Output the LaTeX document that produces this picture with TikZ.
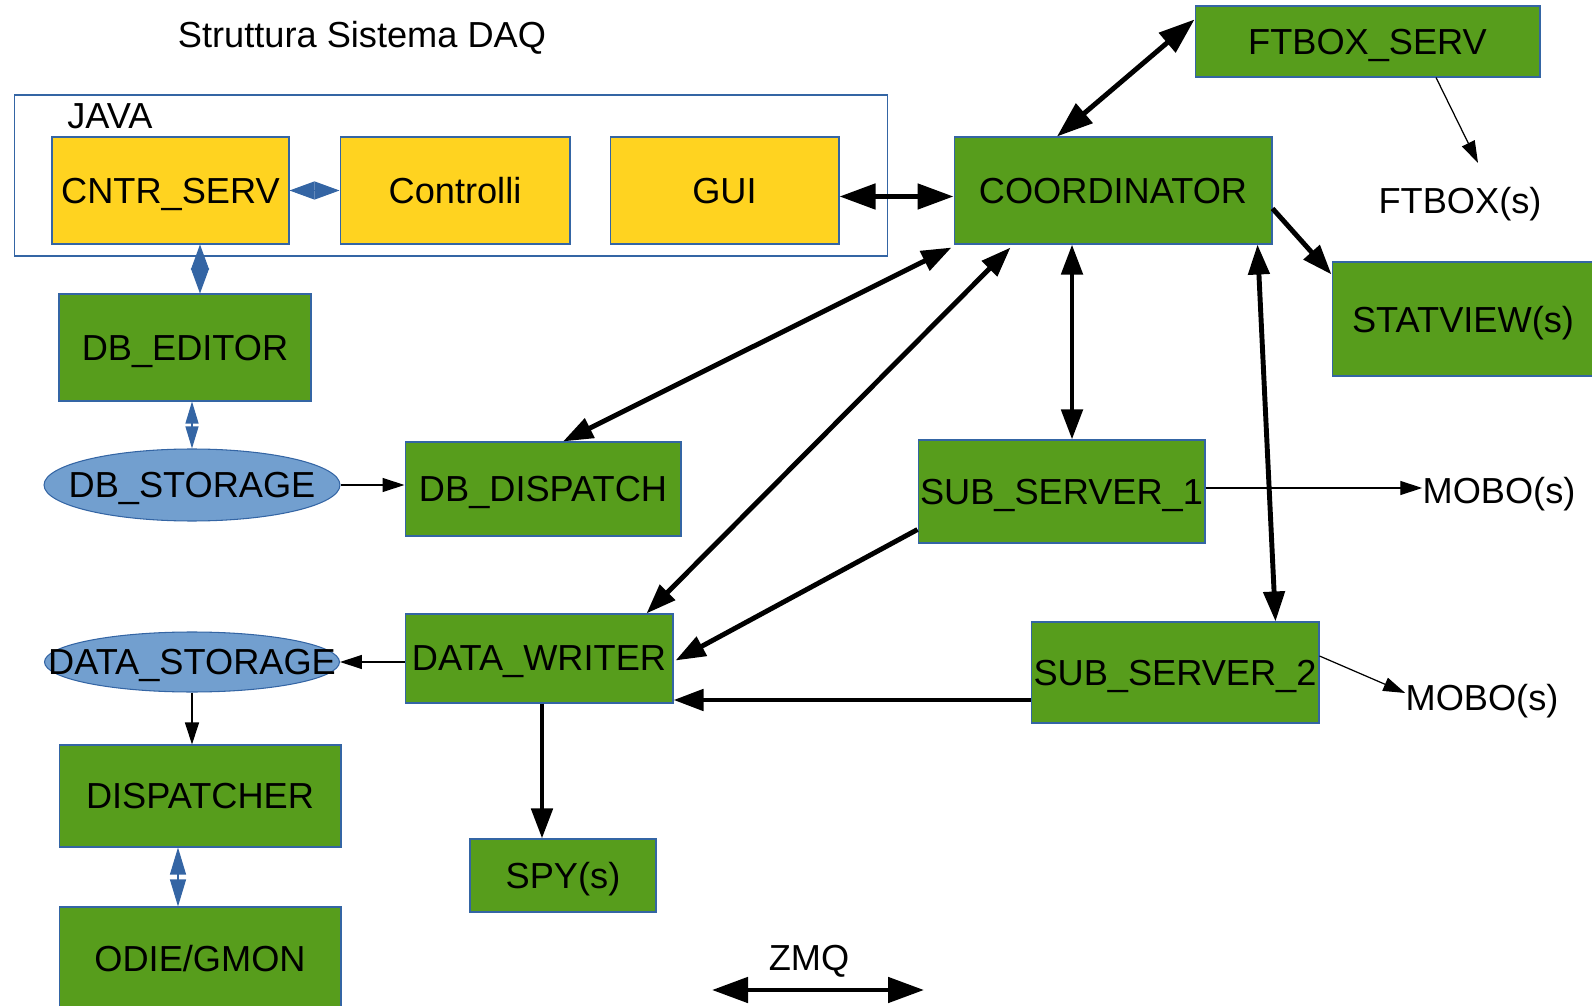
\documentclass[tikz,border=0pt]{standalone}
\usepackage{fontspec}
\setmainfont{Liberation Sans}
\usetikzlibrary{arrows.meta,calc,shapes.geometric}
\definecolor{daqgreen}{RGB}{87,157,28}
\definecolor{daqyellow}{RGB}{255,211,32}
\definecolor{daqblue}{RGB}{114,159,207}
\definecolor{daqline}{RGB}{52,101,164}
\newcommand{\daqfont}{\fontsize{20.6pt}{24pt}\selectfont}
\tikzset{
	gbox/.style={draw=daqline,fill=daqgreen,line width=0.6pt,inner sep=0pt},
	ybox/.style={draw=daqline,fill=daqyellow,line width=0.6pt,inner sep=0pt},
	store/.style={ellipse,draw=daqline,fill=daqblue,line width=0.6pt,inner sep=0pt},
	bigline/.style={line width=2.8pt},
	smallline/.style={line width=0.7pt},
	blink/.style={draw=daqline,line width=0.6pt},
	zt/.tip={Triangle[length=0.6cm,width=0.42cm]},
	zw/.tip={Triangle[length=0.72cm,width=0.5cm]},
	st/.tip={Triangle[length=0.44cm,width=0.28cm]},
	bt/.tip={Triangle[length=0.5cm,width=0.36cm]}
}
\begin{document}
\begin{tikzpicture}[x=0.02cm,y=-0.02cm,every node/.append style={font=\daqfont,text depth=0pt}]
		\useasboundingbox (0,0) rectangle (1592,1006);
		
		% title and JAVA frame
		\node (title) at (362,34) {Struttura Sistema DAQ};
		\node[draw=daqline,line width=0.6pt,minimum width=17.48cm,minimum height=3.22cm] (java) at (451,175.5) {};
		\node[anchor=west,inner sep=0pt] (javalbl) at (67,116) {JAVA};
		
		% java blocks
		\node[ybox,minimum width=4.74cm,minimum height=2.14cm] (cntr) at (170.5,190.5) {CNTR\_SERV};
		\node[ybox,minimum width=4.60cm,minimum height=2.14cm] (contr) at (455,190.5) {Controlli};
		\node[ybox,minimum width=4.58cm,minimum height=2.14cm] (gui) at (724.5,190.5) {GUI};
		
		% servers
		\node[gbox,minimum width=6.36cm,minimum height=2.14cm] (coord) at (1113,190.5) {COORDINATOR};
		\node[gbox,minimum width=6.90cm,minimum height=1.42cm] (ftserv) at (1367.5,41.5) {FTBOX\_SERV};
		\node[inner sep=0pt] (ftbox) at (1460,200) {FTBOX(s)};
		\node[gbox,minimum width=5.24cm,minimum height=2.28cm] (statview) at (1463,319) {STATVIEW(s)};
		\node[gbox,minimum width=5.74cm,minimum height=2.06cm] (ss1) at (1061.5,491.5) {SUB\_SERVER\_1};
		\node[gbox,minimum width=5.76cm,minimum height=2.02cm] (ss2) at (1175,672.5) {SUB\_SERVER\_2};
		\node[inner sep=0pt] (mobo1) at (1499,490) {MOBO(s)};
		\node[inner sep=0pt] (mobo2) at (1482,697) {MOBO(s)};
		
		% database side
		\node[gbox,minimum width=5.04cm,minimum height=2.14cm] (dbedit) at (185,347.5) {DB\_EDITOR};
		\node[store,minimum width=5.92cm,minimum height=1.44cm,label={center:DB\_STORAGE}] (dbstor) at (192,485) {};
		\node[gbox,minimum width=5.52cm,minimum height=1.88cm] (dbdisp) at (543,489) {DB\_DISPATCH};
		
		% data side
		\node[store,minimum width=5.90cm,minimum height=1.20cm,label={center:DATA\_STORAGE}] (dstor) at (192,662) {};
		\node[gbox,minimum width=5.36cm,minimum height=1.78cm] (dwriter) at (539,658.5) {DATA\_WRITER};
		\node[gbox,minimum width=5.64cm,minimum height=2.04cm] (dispatcher) at (200,796) {DISPATCHER};
		\node[gbox,minimum width=5.64cm,minimum height=2.04cm] (odie) at (200,958) {ODIE/GMON};
		\node[gbox,minimum width=3.72cm,minimum height=1.46cm] (spy) at (563,875.5) {SPY(s)};
		
		% legend
		\node (zmq) at (809,958) {ZMQ};
		\coordinate (zl) at (712,990);
		\coordinate (zr) at (924,990);
		
		\coordinate (ed) at ($(dbedit.north)+(15,0)$);
		\coordinate (s1top) at ($(ss1.north)+(10.5,0)$);
		\coordinate (s2w) at ($(ss2.west)+(0,27.5)$);
		\coordinate (od) at ($(odie.north)+(-22,0)$);
		\coordinate (dws) at ($(dwriter.south)+(3,0)$);
		\coordinate (s1e) at ($(ss1.east)+(0,-3.5)$);
		
		% blue links
		\draw[blink,bt-bt] (cntr.east) -- (contr.west);
		\draw[blink,bt-bt] (ed) -- (ed |- cntr.south);
		\draw[blink,{Triangle[length=0.44cm,width=0.26cm]}-{Triangle[length=0.44cm,width=0.26cm]}] (dbstor.north |- dbedit.south) -- (dbstor.north);
		\draw[blink,{Triangle[length=0.54cm,width=0.32cm]}-{Triangle[length=0.54cm,width=0.32cm]}] (od |- dispatcher.south) -- (od);
		
		% thin arrows
		\draw[smallline,-st] (dbstor.east) -- (dbstor.east -| dbdisp.west);
		\draw[smallline,-st] (dwriter.west |- dstor.east) -- (dstor.east);
		\draw[smallline,-st] (dstor.south) -- (dstor.south |- dispatcher.north);
		\draw[smallline,-st] ($(ftserv.south)+(68.5,0)$) -- ($(ftbox.center)+(18,-37)$);
		\draw[smallline,-st] (s1e) -- (s1e -| mobo1.west);
		\draw[smallline,-st] ($(ss2.east)+(0,-16.5)$) -- ($(mobo2.west)+(0,-4)$);
		
		% ZMQ links
		\draw[bigline,zw-zw] ($(gui.east)+(0,6)$) -- ($(coord.west)+(0,6)$);
		\draw[bigline,zw-zw] ($(coord.north)+(-56,0)$) -- ($(ftserv.north west)+(0,14)$);
		\draw[bigline,-zt] ($(coord.east)+(0,18)$) -- ($(statview.north west)+(0,13)$);
		\draw[bigline,zt-zt] ($(coord.south west)+(-2,3)$) -- ($(dbdisp.north)+(20,0)$);
		\draw[bigline,zt-zt] ($(coord.south west)+(57,3)$) -- ($(dwriter.north east)+(-27,0)$);
		\draw[bigline,zt-zt] (coord.south -| s1top) -- (s1top);
		\draw[bigline,zt-zt] ($(coord.south east)+(-15,0)$) -- ($(ss2.north east)+(-44,0)$);
		\draw[bigline,-zt] ($(ss1.south west)+(0,-14)$) -- ($(dwriter.east)+(2,2)$);
		\draw[bigline,-zt] (s2w) -- (dwriter.east |- s2w);
		\draw[bigline,-zt] (dws) -- (dws |- spy.north);
		\draw[bigline,zw-zw] (zl) -- (zr);
\end{tikzpicture}
\end{document}
